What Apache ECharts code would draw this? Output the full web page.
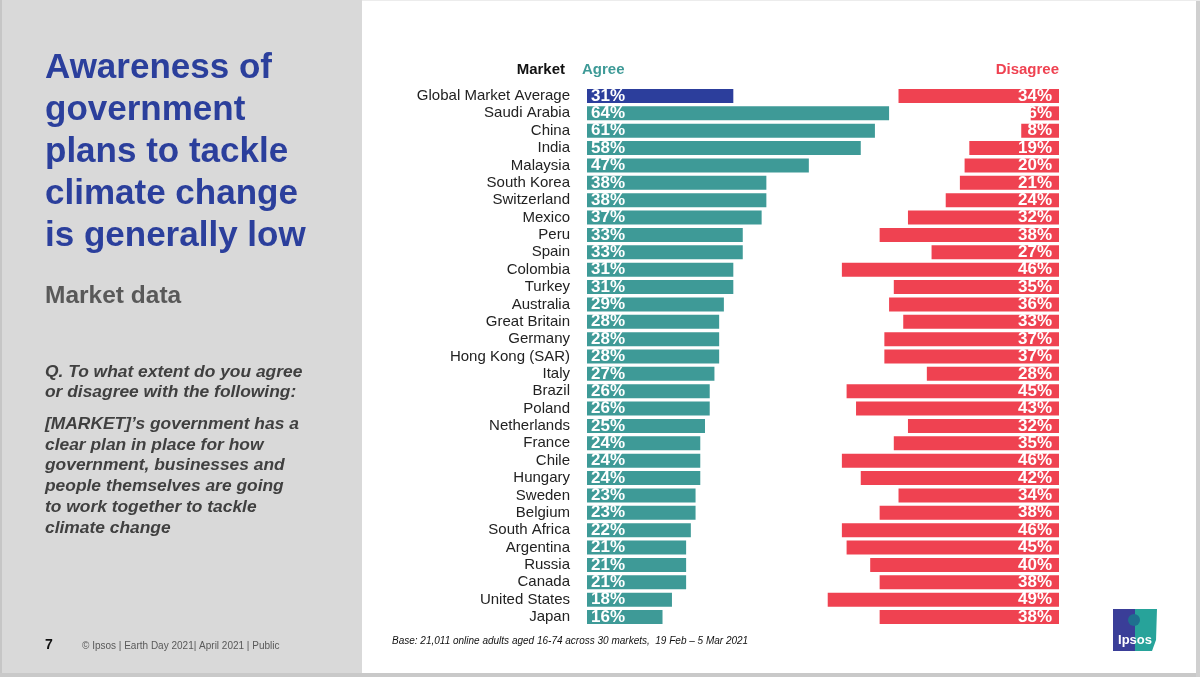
<!DOCTYPE html>
<html>
<head>
<meta charset="utf-8">
<script src="https://cdn.jsdelivr.net/npm/echarts@6/dist/echarts.min.js"></script>
<style>
  html, body { margin: 0; padding: 0; background: #fff; }
  #chart { width: 1200px; height: 677px; }
</style>
</head>
<body>
<div id="chart"></div>
<script>
// Ipsos Earth Day 2021 - awareness of government climate plans, by market
const markets = [
  'Global Market Average', 'Saudi Arabia', 'China', 'India', 'Malaysia', 'South Korea',
  'Switzerland', 'Mexico', 'Peru', 'Spain', 'Colombia', 'Turkey', 'Australia',
  'Great Britain', 'Germany', 'Hong Kong (SAR)', 'Italy', 'Brazil', 'Poland',
  'Netherlands', 'France', 'Chile', 'Hungary', 'Sweden', 'Belgium', 'South Africa',
  'Argentina', 'Russia', 'Canada', 'United States', 'Japan'
]
const agree = [31, 64, 61, 58, 47, 38, 38, 37, 33, 33, 31, 31, 29, 28, 28, 28, 27, 26, 26,
  25, 24, 24, 24, 23, 23, 22, 21, 21, 21, 18, 16]
const disagree = [34, 6, 8, 19, 20, 21, 24, 32, 38, 27, 46, 35, 36, 33, 37, 37, 28, 45, 43,
  32, 35, 46, 42, 34, 38, 46, 45, 40, 38, 49, 38]

const FONT = '"Liberation Sans", Arial, sans-serif'
const TEAL = '#3e9a97'
const NAVY = '#2c3e9c'
const RED = '#ef4251'

const titleLines = ['Awareness of', 'government', 'plans to tackle', 'climate change', 'is generally low']
const questionLines = ['Q. To what extent do you agree', 'or disagree with the following:']
const statementLines = ['[MARKET]\u2019s government has a', 'clear plan in place for how',
  'government, businesses and', 'people themselves are going', 'to work together to tackle', 'climate change']

const chart = echarts.init(document.getElementById('chart'), null, { renderer: 'canvas' })

// plain text element for the slide furniture
function txt(x, y, text, color, size, weight, style, align) {
  return {
    type: 'text', x: x, y: y, silent: true,
    style: {
      text: text, fill: color, fontFamily: FONT, fontSize: size,
      fontWeight: weight || 'normal', fontStyle: style || 'normal',
      align: align || 'left', verticalAlign: 'middle'
    }
  }
}

const graphics = [
  // left panel + frame
  { type: 'rect', shape: { x: 0, y: 0, width: 362, height: 677 }, style: { fill: '#d9d9d9' }, z: -10 },
  { type: 'rect', shape: { x: 0, y: 0, width: 2, height: 677 }, style: { fill: '#c6c6c6' }, z: -5 },
  { type: 'rect', shape: { x: 0, y: 673, width: 1200, height: 4 }, style: { fill: '#c9c9c9' }, z: -5 },
  { type: 'rect', shape: { x: 1196, y: 0, width: 4, height: 677 }, style: { fill: '#d0d0d0' }, z: -5 },
  { type: 'rect', shape: { x: 362, y: 0, width: 838, height: 1 }, style: { fill: '#ececec' }, z: -5 }
]
titleLines.forEach((t, i) => graphics.push(txt(45, 68 + i * 42, t, '#2b3f9c', 35, 'bold')))
graphics.push(txt(45, 296, 'Market data', '#595959', 24.5, 'bold'))
questionLines.forEach((t, i) => graphics.push(txt(45, 372 + i * 20.5, t, '#404040', 17.4, 'bold', 'italic')))
statementLines.forEach((t, i) => graphics.push(txt(45, 424 + i * 20.8, t, '#404040', 17.4, 'bold', 'italic')))
graphics.push(txt(45, 645, '7', '#111', 14, 'bold'))
graphics.push(txt(82, 646, '\u00a9 Ipsos | Earth Day 2021| April 2021 | Public', '#595959', 10))
graphics.push(txt(392, 641, 'Base: 21,011 online adults aged 16-74 across 30 markets,  19 Feb \u2013 5 Mar 2021', '#111', 10, 'normal', 'italic'))

// column headers
graphics.push(txt(565, 70, 'Market', '#111', 15, 'bold', 'normal', 'right'))
graphics.push(txt(582, 70, 'Agree', TEAL, 15, 'bold'))
graphics.push(txt(1059, 70, 'Disagree', RED, 15, 'bold', 'normal', 'right'))

// Ipsos logo
graphics.push({ type: 'rect', shape: { x: 1113, y: 609, width: 23, height: 42 }, style: { fill: '#3a3e98' } })
graphics.push({ type: 'polygon', shape: { points: [[1135, 609], [1157, 609], [1156, 640], [1152, 651], [1135, 651]] }, style: { fill: '#27a39a' } })
graphics.push({ type: 'circle', shape: { cx: 1134, cy: 620, r: 6 }, style: { fill: '#1f6f8f' } })
graphics.push(txt(1135, 640, 'Ipsos', '#fff', 13, 'bold', 'normal', 'center'))

const option = {
  animation: false,
  backgroundColor: '#fff',
  textStyle: { fontFamily: FONT },
  grid: [
    { left: 587, top: 87.3, width: 472, height: 538.4 },
    { left: 587, top: 87.3, width: 472, height: 538.4 }
  ],
  xAxis: [
    { type: 'value', gridIndex: 0, min: 0, max: 100, show: false },
    { type: 'value', gridIndex: 1, min: 0, max: 100, inverse: true, show: false }
  ],
  yAxis: [
    {
      type: 'category', gridIndex: 0, data: markets, inverse: true,
      axisLine: { show: false }, axisTick: { show: false }, splitLine: { show: false },
      axisLabel: { interval: 0, margin: 17, fontSize: 15, color: '#222', fontFamily: FONT }
    },
    { type: 'category', gridIndex: 1, data: markets, inverse: true, show: false }
  ],
  series: [
    {
      name: 'Agree', type: 'bar', xAxisIndex: 0, yAxisIndex: 0, barWidth: 14,
      data: agree.map((v, i) => i === 0 ? { value: v, itemStyle: { color: NAVY } } : v),
      itemStyle: { color: TEAL },
      label: {
        show: true, position: 'insideLeft', distance: 4, formatter: '{c}%',
        color: '#fff', fontWeight: 'bold', fontSize: 17, fontFamily: FONT
      }
    },
    {
      name: 'Disagree', type: 'bar', xAxisIndex: 1, yAxisIndex: 1, barWidth: 14,
      data: disagree,
      itemStyle: { color: RED },
      label: {
        show: true, position: 'insideRight', distance: 7, formatter: '{c}%',
        color: '#fff', fontWeight: 'bold', fontSize: 17, fontFamily: FONT
      }
    }
  ],
  graphic: graphics
}

chart.setOption(option)
</script>
</body>
</html>
